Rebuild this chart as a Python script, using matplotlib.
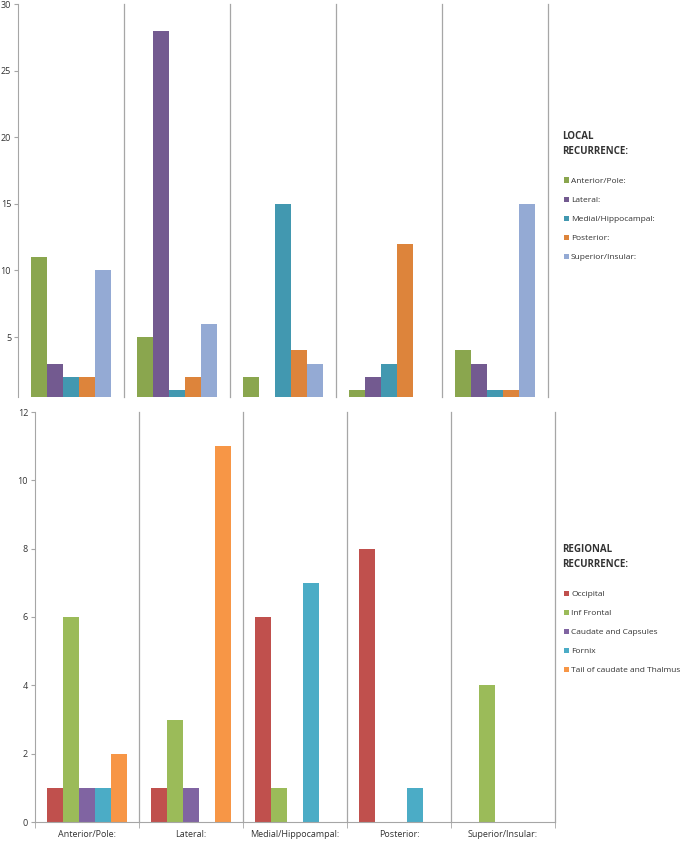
import matplotlib.pyplot as plt
import numpy as np

plt.rcParams['font.family'] = ['Open Sans', 'DejaVu Sans']

# data
sites = ['Anterior/Pole:', 'Lateral:', 'Medial/Hippocampal:', 'Posterior:', 'Superior/Insular:']

local_names = ['Anterior/Pole:', 'Lateral:', 'Medial/Hippocampal:', 'Posterior:', 'Superior/Insular:']
local_vals = [
    [11, 5, 2, 1, 4],   # Anterior/Pole
    [3, 28, 0, 2, 3],   # Lateral
    [2, 1, 15, 3, 1],   # Medial/Hippocampal
    [2, 2, 4, 12, 1],   # Posterior
    [10, 6, 3, 0, 15],  # Superior/Insular
]
local_colors = ['#8aa64e', '#735a90', '#4298b0', '#dd843b', '#94aad4']

regional_names = ['Occipital', 'Inf Frontal', 'Caudate and Capsules', 'Fornix', 'Tail of caudate and Thalmus']
regional_vals = [
    [1, 1, 6, 8, 0],    # Occipital
    [6, 3, 1, 0, 4],    # Inf Frontal
    [1, 1, 0, 0, 0],    # Caudate and Capsules
    [1, 0, 7, 1, 0],    # Fornix
    [2, 11, 0, 0, 0],   # Tail of caudate and Thalmus
]
regional_colors = ['#c0504d', '#9bbb59', '#8064a2', '#4bacc6', '#f79646']

W, H = 685, 841
fig = plt.figure(figsize=(W / 100, H / 100), dpi=100)

ax1 = fig.add_axes([18 / W, 1 - 397 / H, 530 / W, 393 / H])
ax2 = fig.add_axes([35 / W, 1 - 822 / H, 520 / W, 410 / H])

x = np.arange(len(sites))
bw = 0.152
grid = '#a6a6a6'


def draw(ax, vals, names, colors):
    n = len(vals)
    handles = []
    for i, v in enumerate(vals):
        off = (i - (n - 1) / 2) * bw
        b = ax.bar(x + off, v, bw, color=colors[i], label=names[i])
        handles.append(b)
    for s in np.arange(0.5, len(sites), 1.0):
        ax.axvline(s, color=grid, lw=0.9, zorder=0, clip_on=False)
    ax.set_xlim(-0.5, len(sites) - 0.5)
    for sp in ['top', 'right', 'bottom']:
        ax.spines[sp].set_visible(False)
    ax.spines['left'].set_color(grid)
    ax.tick_params(axis='y', colors=grid, length=3, labelsize=6.5, labelcolor='#333333', pad=2)
    return handles


h1 = draw(ax1, local_vals, local_names, local_colors)
ax1.set_ylim(0.5, 30)
ax1.set_yticks([5, 10, 15, 20, 25, 30])
ax1.set_xticks([])

h2 = draw(ax2, regional_vals, regional_names, regional_colors)
ax2.set_ylim(0, 12)
ax2.set_yticks(range(0, 13, 2))
ax2.spines['bottom'].set_visible(True)
ax2.spines['bottom'].set_color(grid)
ax2.set_xticks(x)
ax2.set_xticklabels(sites)
ax2.set_xticks(np.arange(-0.5, len(sites), 1.0), minor=True)
ax2.tick_params(axis='x', which='major', length=0, labelsize=6.5, labelcolor='#333333', pad=6)
ax2.tick_params(axis='x', which='minor', length=4, color=grid)

# legends
fig.text(562 / W, 1 - 131 / H, 'LOCAL\nRECURRENCE:', fontsize=7, fontweight='bold',
         color='#333333', va='top', ha='left', linespacing=1.5)
fig.legend(handles=h1, loc='upper left', bbox_to_anchor=(556 / W, 1 - 170 / H),
           frameon=False, fontsize=6, handlelength=0.6, handleheight=0.6,
           handletextpad=0.3, labelspacing=1.38, labelcolor='#333333')

fig.text(562 / W, 1 - 544 / H, 'REGIONAL\nRECURRENCE:', fontsize=7, fontweight='bold',
         color='#333333', va='top', ha='left', linespacing=1.5)
fig.legend(handles=h2, loc='upper left', bbox_to_anchor=(556 / W, 1 - 583 / H),
           frameon=False, fontsize=6, handlelength=0.6, handleheight=0.6,
           handletextpad=0.3, labelspacing=1.38, labelcolor='#333333')

fig.savefig('out.png', dpi=100)
